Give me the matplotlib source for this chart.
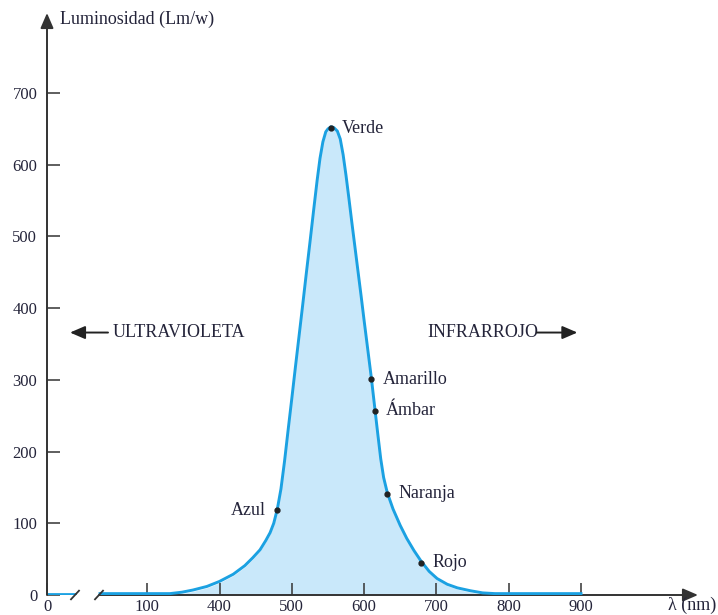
import numpy as np
import matplotlib
matplotlib.use("Agg")
import matplotlib.pyplot as plt
from matplotlib.patches import ArrowStyle
from matplotlib.transforms import ScaledTranslation

# ---------------- data ----------------
wavelength_nm = [53, 195, 245, 290, 348, 400, 419, 435, 446, 456, 464, 470, 475,
                 480, 485, 490, 495, 500, 505, 510, 515, 520, 525, 530, 535,
                 539, 543, 547, 550, 554, 558, 563, 567, 571, 575, 579, 583,
                 587, 592, 596, 600, 604, 610, 615, 619, 623, 627, 632, 640,
                 650, 659, 669, 679, 690, 701, 715, 729, 747, 764, 781, 900]
luminosity = [0, 0, 2, 5, 10, 17, 27, 39, 50, 61, 74, 85, 98,
              118, 146, 185, 229, 272, 316, 359, 402, 446, 489, 533, 576,
              607, 630, 644, 648, 651, 650, 645, 634, 612, 583, 551, 518,
              486, 446, 414, 381, 349, 301, 257, 222, 188, 162, 141, 118,
              95, 77, 60, 45, 31, 21, 13, 8, 4, 1, 0, 0]

color_names = ["Azul", "Verde", "Amarillo", "Ámbar", "Naranja", "Rojo"]
color_nm = [480, 554, 610, 615, 632, 679]
color_lum = [118, 651, 301, 257, 141, 45]

x_ticks = [0, 100, 400, 500, 600, 700, 800, 900]
x_tick_labels = ["0", "100", "400", "500", "600", "700", "800", "900"]
y_ticks = [0, 100, 200, 300, 400, 500, 600, 700]
y_tick_labels = ["0", "100", "200", "300", "400", "500", "600", "700"]

# ---------------- style ----------------
FONT = ["Liberation Serif", "DejaVu Serif"]
TXT = "#24243a"
AX = "#333333"
LINE = "#1ba1e2"
FILL = "#c9e8fa"
FS_TICK = 12
FS = 13

# broken, piecewise-linear wavelength axis (units ~ pixels)
def fwd(x):
    x = np.asarray(x, float)
    return np.where(x < 100, 47 + x,
                    np.where(x < 400, 147 + (x - 100) * 72.5 / 300,
                             219.5 + (x - 400) * 0.723))

def inv(p):
    p = np.asarray(p, float)
    return np.where(p < 147, p - 47,
                    np.where(p < 219.5, 100 + (p - 147) * 300 / 72.5,
                             400 + (p - 219.5) / 0.723))

fig = plt.figure(figsize=(7.18, 6.15), dpi=100)
ax = fig.add_axes([47 / 718, 20 / 615, (698 - 47) / 718, (595 - 13) / 615])
ax.set_xscale("function", functions=(fwd, inv))
ax.set_xlim(0, float(inv(698)))
ax.set_ylim(0, (595 - 13) / 0.7171)

for s in ax.spines.values():
    s.set_visible(False)

# curve + fill
ax.fill_between(wavelength_nm, luminosity, 0, color=FILL, lw=0, zorder=1)
lift = ax.transData + ScaledTranslation(0, 1.0 / 72, fig.dpi_scale_trans)
ax.plot(wavelength_nm, luminosity, color=LINE, lw=2.1, zorder=4,
        solid_joinstyle="round", transform=lift)

# axes lines with arrows
arr = ArrowStyle("-|>", head_length=0.65, head_width=0.28)
ax.annotate("", xy=(0, 1), xytext=(0, 0), xycoords="axes fraction",
            textcoords="axes fraction",
            arrowprops=dict(arrowstyle=arr, color=AX, lw=1.4,
                            mutation_scale=14, shrinkA=0, shrinkB=0), zorder=5)
break_a, break_b = 28, 52
ax.annotate("", xy=(1, 0), xytext=(break_b, 0),
            xycoords=("axes fraction", "data"), textcoords="data",
            arrowprops=dict(arrowstyle=arr, color=AX, lw=1.4,
                            mutation_scale=14, shrinkA=0, shrinkB=0), zorder=3)
ax.plot([0, break_a], [0, 0], color=AX, lw=1.4, zorder=3, solid_capstyle="butt")
ax.plot([0, break_a], [0, 0], color=LINE, lw=2.0, zorder=4, transform=lift)
# break marks
for b in (break_a, break_b):
    ax.plot([b - 4, b + 4], [-6, 6], color=AX, lw=1.3, zorder=5, clip_on=False)

# ticks
ax.set_xticks(x_ticks)
ax.set_xticklabels(x_tick_labels)
ax.set_yticks(y_ticks)
ax.set_yticklabels(y_tick_labels)
ax.xaxis.set_minor_locator(matplotlib.ticker.NullLocator())
ax.tick_params(axis="both", direction="in", length=9, width=1.1, color=AX,
               labelsize=FS_TICK, labelcolor=TXT)
ax.tick_params(axis="x", pad=3)
ax.tick_params(axis="y", pad=7)
for lab in ax.get_xticklabels() + ax.get_yticklabels():
    lab.set_family(FONT)

# axis titles
fig.text(60 / 718, 1 - 19 / 615, "Luminosidad (Lm/w)", ha="left", va="center",
         fontsize=FS, family=FONT, color=TXT)
fig.text(716 / 718, 1 - 605 / 615, "λ (nm)", ha="right", va="center",
         fontsize=FS, family=FONT, color=TXT)

# colour points
ax.plot(color_nm, color_lum, "o", color="#222222", ms=3.5, zorder=6)
for name, x, y in zip(color_names, color_nm, color_lum):
    if name == "Azul":
        ax.annotate(name, (x, y), xytext=(-8, 0), textcoords="offset points",
                    ha="right", va="center", fontsize=FS, family=FONT, color=TXT)
    else:
        ax.annotate(name, (x, y), xytext=(8, 0), textcoords="offset points",
                    ha="left", va="center", fontsize=FS, family=FONT, color=TXT)

# region labels
band_y = 366
ax.text(66, band_y, "ULTRAVIOLETA", ha="left", va="center", fontsize=FS,
        family=FONT, color=TXT)
ax.annotate("", xy=(23, band_y), xytext=(61, band_y),
            arrowprops=dict(arrowstyle=arr, color="#222222", lw=1.4,
                            mutation_scale=14, shrinkA=0, shrinkB=0))
ax.text(687, band_y, "INFRARROJO", ha="left", va="center", fontsize=FS,
        family=FONT, color=TXT)
ax.annotate("", xy=(895, band_y), xytext=(839, band_y),
            arrowprops=dict(arrowstyle=arr, color="#222222", lw=1.4,
                            mutation_scale=14, shrinkA=0, shrinkB=0))

fig.savefig("out.png", dpi=100)
